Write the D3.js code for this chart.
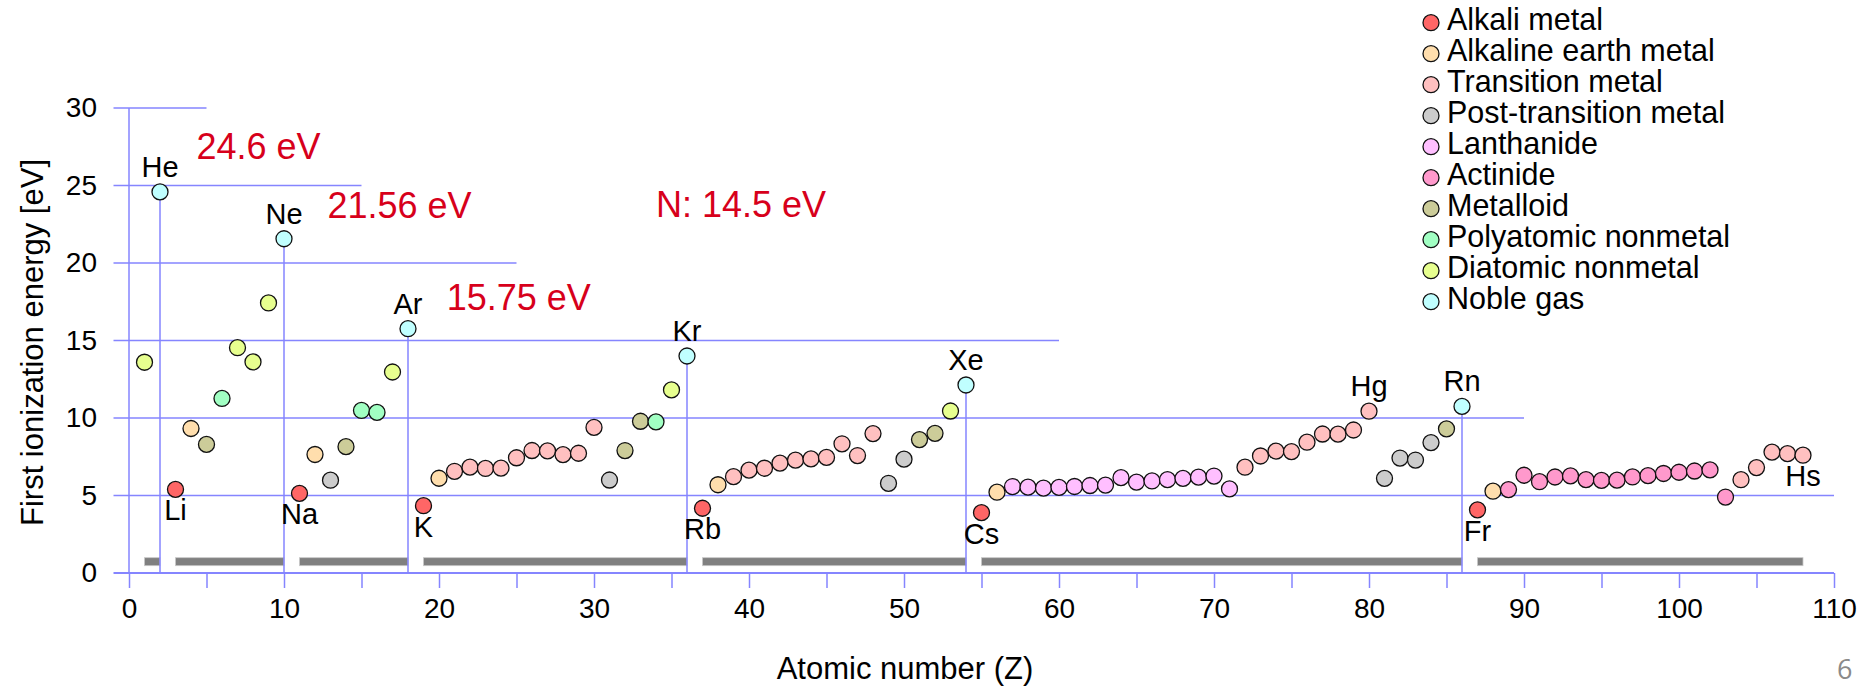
<!DOCTYPE html>
<html>
<head>
<meta charset="utf-8">
<script src="https://cdn.jsdelivr.net/npm/d3@7"></script>
<style>
  html, body { margin: 0; padding: 0; background: #fff; }
  svg { display: block; font-family: "Liberation Sans", Arial, sans-serif; }
</style>
</head>
<body>
<svg id="chart" width="1868" height="686"></svg>
<script>
// First ionization energy (eV) for Z = 1..108
const energies = [
  13.598, 24.587, 5.392, 9.323, 8.298, 11.260, 14.534, 13.618, 17.423, 21.565,
  5.139, 7.646, 5.986, 8.152, 10.487, 10.360, 12.968, 15.760,
  4.341, 6.113, 6.561, 6.828, 6.746, 6.767, 7.434, 7.902, 7.881, 7.640, 7.726, 9.394,
  5.999, 7.899, 9.789, 9.752, 11.814, 14.000,
  4.177, 5.695, 6.217, 6.634, 6.759, 7.092, 7.28, 7.361, 7.459, 8.337, 7.576, 8.994,
  5.786, 7.344, 8.608, 9.010, 10.451, 12.130,
  3.894, 5.212, 5.577, 5.539, 5.473, 5.525, 5.582, 5.644, 5.670, 6.150, 5.864, 5.939,
  6.022, 6.108, 6.184, 6.254, 5.426, 6.825, 7.550, 7.864, 7.834, 8.438, 8.967, 8.959,
  9.226, 10.438, 6.108, 7.417, 7.286, 8.414, 9.30, 10.749,
  4.073, 5.278, 5.38, 6.307, 5.89, 6.194, 6.266, 6.026, 5.974, 5.991, 6.198, 6.282,
  6.42, 6.50, 6.58, 6.65, 4.9, 6.02, 6.8, 7.8, 7.7, 7.6
];

// category code for each element (same order as energies)
// A alkali, E alkaline earth, T transition, P post-transition, L lanthanide,
// C actinide, M metalloid, Y polyatomic nonmetal, D diatomic nonmetal, N noble gas
const categoryCodes = (
  "DN" + "AEMYDDDN" + "AEPMYYDN" +
  "AETTTTTTTTTTPMMYDN" + "AETTTTTTTTTTPPMMDN" +
  "AELLLLLLLLLLLLLLLTTTTTTTTTPPPPMN" +
  "AECCCCCCCCCCCCCCCTTTTT"
).split("");

const categoryKeys = ["A", "E", "T", "P", "L", "C", "M", "Y", "D", "N"];
const categoryNames = [
  "Alkali metal", "Alkaline earth metal", "Transition metal", "Post-transition metal",
  "Lanthanide", "Actinide", "Metalloid", "Polyatomic nonmetal", "Diatomic nonmetal", "Noble gas"
];
const categoryColors = [
  "#ff6666", "#ffdead", "#ffc0c0", "#cccccc", "#ffbfff",
  "#ff99cc", "#cccc99", "#a1ffc3", "#e7ff8f", "#c0ffff"
];

// labelled elements
const labelsAbove = [
  { z: 2, s: "He" }, { z: 10, s: "Ne" }, { z: 18, s: "Ar" }, { z: 36, s: "Kr" },
  { z: 54, s: "Xe" }, { z: 80, s: "Hg" }, { z: 86, s: "Rn" }
];
const labelsBelow = [
  { z: 3, s: "Li" }, { z: 11, s: "Na" }, { z: 19, s: "K" }, { z: 37, s: "Rb" },
  { z: 55, s: "Cs" }, { z: 87, s: "Fr" }, { z: 108, s: "Hs" }
];

// noble gases get a drop line to the axis
const nobleGases = [2, 10, 18, 36, 54, 86];

// periods shown as grey bars along the bottom
const periodBars = [[1, 2], [3, 10], [11, 18], [19, 36], [37, 54], [55, 86], [87, 108]];

// red annotations: [x in Z units, y in eV, text]
const annotations = [
  [4.35, 26.7, "24.6 eV"],
  [12.8, 22.9, "21.56 eV"],
  [20.5, 16.95, "15.75 eV"],
  [34.0, 22.95, "N: 14.5 eV"]
];

// gridline y values and how far right each reaches
const yTicks = [0, 5, 10, 15, 20, 25, 30];
const gridEnds = [110, 110, 90, 60, 25, 15, 5];
const xTicks = [0, 5, 10, 15, 20, 25, 30, 35, 40, 45, 50, 55, 60, 65, 70, 75, 80, 85, 90, 95, 100, 105, 110];

const blue = "#8585ff";
const red = "#d7001b";

const svg = d3.select("#chart");

const x = d3.scaleLinear().domain([0, 110]).range([129, 1834]);
const y = d3.scaleLinear().domain([0, 30]).range([573, 108]);

const data = energies.map((e, i) => ({
  z: i + 1,
  e: e,
  cat: categoryKeys.indexOf(categoryCodes[i])
}));

// Horizontal grid lines with staggered lengths
svg.append("g")
  .selectAll("line")
  .data(yTicks)
  .enter()
  .append("line")
  .attr("x1", x(-1))
  .attr("x2", (d, i) => x(gridEnds[i]))
  .attr("y1", d => y(d))
  .attr("y2", d => y(d))
  .attr("stroke", blue)
  .attr("stroke-width", d => d === 0 ? 2 : 1.5);

// Y axis (labels only, tick marks are the grid lines)
const yAxis = svg.append("g")
  .attr("transform", `translate(${x(0)},0)`)
  .call(d3.axisLeft(y).tickValues(yTicks).tickSize(0).tickPadding(32));
yAxis.select(".domain").remove();
yAxis.selectAll("text")
  .style("font-size", "28px")
  .style("font-family", "'Liberation Sans', Arial, sans-serif")
  .attr("fill", "#000");

// vertical axis line
svg.append("line")
  .attr("x1", x(0)).attr("x2", x(0))
  .attr("y1", y(0)).attr("y2", y(30))
  .attr("stroke", blue).attr("stroke-width", 1.5);

// X axis
const xAxis = svg.append("g")
  .attr("transform", `translate(0,${y(0)})`)
  .call(d3.axisBottom(x).tickValues(xTicks).tickSize(15)
    .tickFormat(d => d % 10 === 0 ? d : ""));
xAxis.select(".domain").remove();
xAxis.selectAll(".tick line").attr("stroke", blue).attr("stroke-width", 1.5);
xAxis.selectAll("text")
  .attr("y", 45)
  .attr("dy", null)
  .style("font-size", "28px")
  .style("font-family", "'Liberation Sans', Arial, sans-serif")
  .attr("fill", "#000");

// Period bars
svg.append("g")
  .selectAll("rect")
  .data(periodBars)
  .enter()
  .append("rect")
  .attr("x", d => x(d[0]))
  .attr("width", d => x(d[1]) - x(d[0]))
  .attr("y", y(0.73) - 4)
  .attr("height", 8)
  .attr("fill", "#808080")
  .attr("stroke", "#c8c8c8")
  .attr("stroke-width", 0.8);

// Noble gas drop lines
svg.append("g")
  .selectAll("line")
  .data(nobleGases)
  .enter()
  .append("line")
  .attr("x1", d => x(d)).attr("x2", d => x(d))
  .attr("y1", y(0))
  .attr("y2", d => y(energies[d - 1]))
  .attr("stroke", blue)
  .attr("stroke-width", 1.5);

// Points
svg.append("g")
  .selectAll("circle")
  .data(data)
  .enter()
  .append("circle")
  .attr("cx", d => x(d.z))
  .attr("cy", d => y(d.e))
  .attr("r", 8)
  .attr("fill", d => categoryColors[d.cat])
  .attr("stroke", "#111")
  .attr("stroke-width", 1.3);

// Element labels
svg.append("g")
  .selectAll("text")
  .data(labelsAbove)
  .enter()
  .append("text")
  .attr("x", d => x(d.z))
  .attr("y", d => y(energies[d.z - 1]) - 15)
  .attr("text-anchor", "middle")
  .style("font-size", "29px")
  .text(d => d.s);

svg.append("g")
  .selectAll("text")
  .data(labelsBelow)
  .enter()
  .append("text")
  .attr("x", d => x(d.z))
  .attr("y", d => y(energies[d.z - 1]) + 31)
  .attr("text-anchor", "middle")
  .style("font-size", "29px")
  .text(d => d.s);

// Red annotations
svg.append("g")
  .selectAll("text")
  .data(annotations)
  .enter()
  .append("text")
  .attr("x", d => x(d[0]))
  .attr("y", d => y(d[1]))
  .attr("fill", red)
  .style("font-size", "36px")
  .text(d => d[2]);

// Legend
const legend = svg.append("g")
  .selectAll("g")
  .data(categoryNames)
  .enter()
  .append("g")
  .attr("transform", (d, i) => `translate(1431,${22.7 + i * 31})`);

legend.append("circle")
  .attr("r", 8)
  .attr("fill", (d, i) => categoryColors[i])
  .attr("stroke", "#111")
  .attr("stroke-width", 1.3);

legend.append("text")
  .attr("x", 16)
  .attr("y", 7)
  .style("font-size", "30.5px")
  .text(d => d);

// Axis titles
svg.append("text")
  .attr("transform", `translate(43,${(y(0) + y(30)) / 2 + 2}) rotate(-90)`)
  .attr("text-anchor", "middle")
  .style("font-size", "31px")
  .text("First ionization energy [eV]");

svg.append("text")
  .attr("x", 905)
  .attr("y", 679)
  .attr("text-anchor", "middle")
  .style("font-size", "31px")
  .text("Atomic number (Z)");

// page number
svg.append("text")
  .attr("x", 1837)
  .attr("y", 679)
  .attr("fill", "#8a8a8a")
  .style("font-family", "'Open Sans', sans-serif")
  .style("font-size", "27px")
  .text("6");
</script>
</body>
</html>
